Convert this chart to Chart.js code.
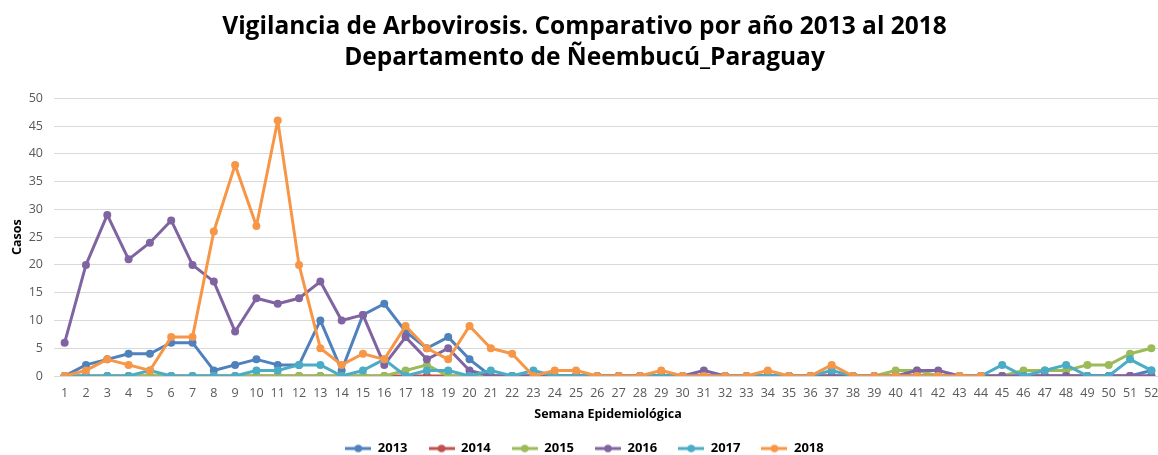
<!DOCTYPE html>
<html>
<head>
<meta charset="utf-8">
<script src="https://cdn.jsdelivr.net/npm/chart.js@4.4.1/dist/chart.umd.min.js"></script>
<style>
    body { margin: 0; background: #fff; overflow: hidden; }
    #wrap { position: absolute; left: 0; top: 0; width: 1166px; height: 455px; }
</style>
</head>
<body>
<div id="wrap"><canvas id="arboChart"></canvas></div>
<script>
// Vigilancia de Arbovirosis - casos por semana epidemiológica
const semanas = ['1','2','3','4','5','6','7','8','9','10','11','12','13','14','15','16','17','18','19','20',
    '21','22','23','24','25','26','27','28','29','30','31','32','33','34','35','36','37','38','39','40',
    '41','42','43','44','45','46','47','48','49','50','51','52'];

const casos2013 = [0,2,3,4,4,6,6,1,2,3,2,2,10,1,11,13,8,5,7,3,0,0,0,0,0,0,0,0,0,0,0,0,0,0,0,0,0,0,0,0,0,0,0,0,0,0,0,0,0,0,0,1];
const casos2014 = [0,0,0,0,0,0,0,0,0,0,0,0,0,0,0,0,0,0,0,0,0,0,0,0,0,0,0,0,0,0,0,0,0,0,0,0,0,0,0,0,0,0,0,0,0,0,0,0,0,0,0,0];
const casos2015 = [0,0,0,0,0,0,0,0,0,0,0,0,0,0,0,0,1,2,0,0,0,0,0,0,0,0,0,0,0,0,0,0,0,0,0,0,0,0,0,1,1,0,0,0,0,1,1,1,2,2,4,5];
const casos2016 = [6,20,29,21,24,28,20,17,8,14,13,14,17,10,11,2,7,3,5,1,0,0,0,0,0,0,0,0,0,0,1,0,0,0,0,0,0,0,0,0,1,1,0,0,0,0,0,0,0,0,0,0];
const casos2017 = [0,0,0,0,1,0,0,0,0,1,1,2,2,0,1,3,0,1,1,0,1,0,1,0,0,0,0,0,0,0,0,0,0,0,0,0,1,0,0,0,0,0,0,0,2,0,1,2,0,0,3,1];
const casos2018 = [0,1,3,2,1,7,7,26,38,27,46,20,5,2,4,3,9,5,3,9,5,4,0,1,1,0,0,0,1,0,0,0,0,1,0,0,2,0,0,0,0,0,0,0,null,null,null,null,null,null,null,null];

const anios = ['2013','2014','2015','2016','2017','2018'];
const series = [casos2013, casos2014, casos2015, casos2016, casos2017, casos2018];
const colores = ['#4f81bd','#c0504d','#9bbb59','#8064a2','#4bacc6','#f79646'];

const fuente = "'Open Sans', 'Noto Sans', sans-serif";

// icono de leyenda: línea con punto
function iconoLeyenda(color) {
    const c = document.createElement('canvas');
    c.width = 26; c.height = 10;
    const g = c.getContext('2d');
    g.strokeStyle = color;
    g.lineWidth = 3;
    g.beginPath(); g.moveTo(0, 5); g.lineTo(26, 5); g.stroke();
    g.fillStyle = color;
    g.beginPath(); g.arc(13, 5, 3.8, 0, Math.PI * 2); g.fill();
    return c;
}
const iconos = colores.map(iconoLeyenda);

const ctx = document.getElementById('arboChart');
new Chart(ctx, {
    type: 'line',
    data: {
        labels: semanas,
        datasets: anios.map((anio, i) => ({
            label: anio,
            data: series[i],
            borderColor: colores[i],
            backgroundColor: colores[i],
            borderWidth: 3,
            borderJoinStyle: 'round',
            borderCapStyle: 'round',
            pointRadius: 4,
            pointHoverRadius: 4,
            pointBorderWidth: 0,
            tension: 0,
            order: anios.length - i
        }))
    },
    options: {
        responsive: true,
        maintainAspectRatio: false,
        animation: false,
        layout: { padding: { left: 3, right: 0, top: 11, bottom: -10 } },
        plugins: {
            title: {
                display: true,
                text: ['Vigilancia de Arbovirosis. Comparativo por año 2013 al 2018', 'Departamento de Ñeembucú_Paraguay'],
                color: '#000',
                font: { family: fuente, size: 24.5, weight: 'bold', lineHeight: 1.27 },
                padding: { top: 0, bottom: 25 }
            },
            legend: {
                display: true,
                position: 'bottom',
                labels: {
                    usePointStyle: true,
                    pointStyleWidth: 26,
                    boxHeight: 10,
                    color: '#000',
                    font: { family: fuente, size: 13, weight: 'bold' },
                    padding: 21,
                    sort: (a, b) => a.datasetIndex - b.datasetIndex,
                    generateLabels: chart => Chart.defaults.plugins.legend.labels.generateLabels(chart).map(item => {
                        item.pointStyle = iconos[item.datasetIndex];
                        return item;
                    })
                }
            },
            tooltip: { enabled: false }
        },
        scales: {
            x: {
                offset: true,
                afterFit: scale => { scale.height = 45; scale.paddingRight = 0; },
                grid: { display: false, drawTicks: false },
                border: { color: '#d9d9d9' },
                ticks: { autoSkip: false, maxRotation: 0, color: '#595959', padding: 10, font: { family: fuente, size: 12.5 } },
                title: { display: true, text: 'Semana Epidemiológica', color: '#000', font: { family: fuente, size: 12.5, weight: 'bold' }, padding: { top: 0, bottom: -0.5 } }
            },
            y: {
                min: 0,
                max: 50,
                afterFit: scale => { scale.width = 51; },
                grid: { color: '#d9d9d9', drawTicks: false },
                border: { display: false },
                ticks: { stepSize: 5, color: '#595959', padding: 11, font: { family: fuente, size: 12.5 } },
                title: { display: true, text: 'Casos', color: '#000', font: { family: fuente, size: 12.5, weight: 'bold' }, padding: { top: 7, bottom: 0 } }
            }
        }
    }
});
</script>
</body>
</html>
